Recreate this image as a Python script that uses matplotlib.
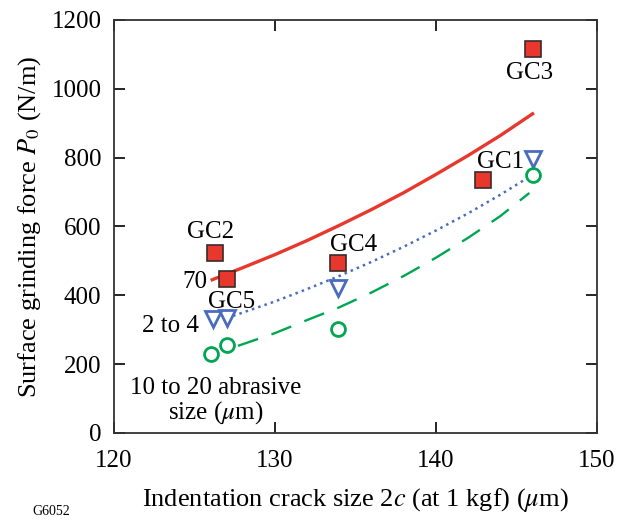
import matplotlib
matplotlib.use("Agg")
import matplotlib.pyplot as plt

plt.rcParams['font.family'] = ['Liberation Serif', 'DejaVu Serif']
plt.rcParams['mathtext.fontset'] = 'stix'

# measured points
sq_x = [126.3, 127.0, 133.9, 142.9, 146.0]
sq_y = [523, 447, 494, 735, 1116]
tri_x = [126.15, 127.0, 133.9, 146.0]
tri_y = [330, 334, 420, 796]
circ_x = [126.0, 127.0, 133.9, 146.0]
circ_y = [230, 256, 302, 750]

# fitted curves
red_x = [126.1, 128, 130, 132, 134, 136, 138, 140, 142, 144, 146]
red_y = [445, 480, 518, 559, 603, 649, 698, 751, 806, 864, 927]
blue_x = [127.4, 130, 132, 134, 136, 138, 140, 142, 144, 145.7]
blue_y = [340, 382, 418, 456, 497, 541, 588, 638, 692, 741]
green_x = [127.7, 130, 132, 134, 136, 138, 140, 142, 144, 145.8]
green_y = [253, 290, 328, 365, 408, 456, 509, 567, 630, 697]

red = '#e8382e'
blue = '#4a6cc0'
green = '#00a651'

fig = plt.figure(figsize=(6.44, 5.21), dpi=100)
ax = fig.add_axes([0.177, 0.169, 0.750, 0.793])

ax.plot(red_x, red_y, '-', color=red, lw=2.4)
ax.plot(blue_x, blue_y, ':', color=blue, lw=1.8)
ax.plot(green_x, green_y, color=green, lw=1.7, dashes=(9, 6))

ax.plot(sq_x, sq_y, 's', ms=11, mfc=red, mec='#3a2a2a', mew=1.2, ls='none')
ax.plot(tri_x, tri_y, 'v', ms=12, mfc='none', mec=blue, mew=2, ls='none')
ax.plot(circ_x, circ_y, 'o', ms=10, mfc='none', mec=green, mew=2, ls='none')

fs = 18
ax.text(145.8, 1046, 'GC3', fontsize=fs, ha='center', va='center')
ax.text(144.0, 788, 'GC1', fontsize=fs, ha='center', va='center')
ax.text(126.0, 584, 'GC2', fontsize=fs, ha='center', va='center')
ax.text(134.85, 546, 'GC4', fontsize=fs, ha='center', va='center')
ax.text(127.3, 381, 'GC5', fontsize=fs, ha='center', va='center')
ax.text(125.8, 439, '70', fontsize=fs, ha='right', va='center')
ax.text(125.3, 311, '2 to 4', fontsize=fs, ha='right', va='center')
ax.text(126.3, 92, '10 to 20 abrasive\nsize ($\\mu$m)', fontsize=fs,
        ha='center', va='center', linespacing=1.0)

ax.set_xlim(120, 150)
ax.set_ylim(0, 1200)
ax.set_xticks([120, 130, 140, 150])
ax.set_yticks(range(0, 1201, 200))
ax.tick_params(direction='in', length=8, width=1.2, top=True, right=True,
               labelsize=18, pad=9)
ax.tick_params(axis='x', pad=12)
for s in ax.spines.values():
    s.set_linewidth(1.3)
    s.set_color('#333333')

ax.set_xlabel('Indentation crack size 2$c$ (at 1 kgf) ($\\mu$m)', fontsize=19, labelpad=10)
ax.set_ylabel('Surface grinding force $P_0$ (N/m)', fontsize=19, labelpad=6)

fig.text(0.05, 0.005, 'G6052', fontsize=10, ha='left', va='bottom')

fig.savefig('out.png', dpi=100)
plt.close(fig)
